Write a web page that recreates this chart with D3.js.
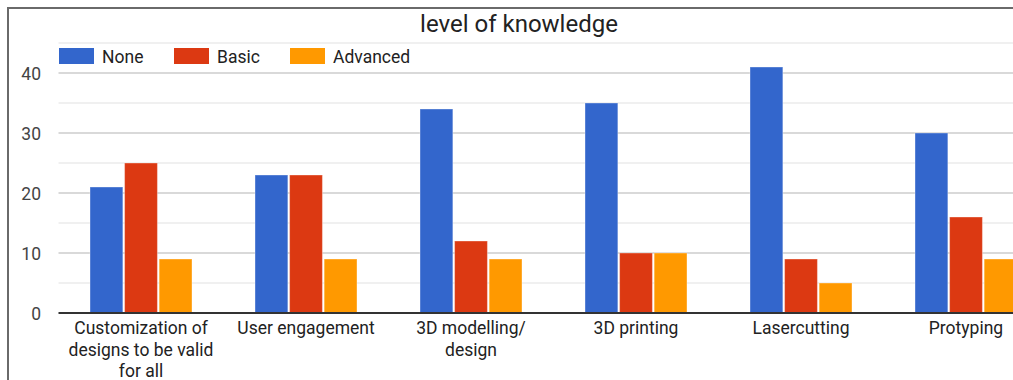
<!DOCTYPE html>
<html>
<head>
<meta charset="utf-8">
<script src="https://cdn.jsdelivr.net/npm/d3@7"></script>
<style>
  html, body { margin: 0; padding: 0; background: #fff; overflow: hidden; }
  svg { display: block; font-family: Roboto, "Liberation Sans", Arial, sans-serif; }
</style>
</head>
<body>
<svg id="chart" width="1013" height="380"></svg>
<script>
// Survey: self-reported level of knowledge per topic
const categories = [
  ["Customization of", "designs to be valid", "for all"],
  ["User engagement"],
  ["3D modelling/", "design"],
  ["3D printing"],
  ["Lasercutting"],
  ["Protyping"]
];
const seriesNames = ["None", "Basic", "Advanced"];
const noneValues     = [21, 23, 34, 35, 41, 30];
const basicValues    = [25, 23, 12, 10,  9, 16];
const advancedValues = [ 9,  9,  9, 10,  5,  9];
const majorTicks = [0, 10, 20, 30, 40];
const minorTicks = [5, 15, 25, 35, 45];
const colors = ["#3366cc", "#dc3912", "#ff9900"];

const seriesValues = [noneValues, basicValues, advancedValues];
const keys = categories.map(c => c.join(" "));

const svg = d3.select("#chart");

// outer frame
svg.append("rect")
  .attr("x", 8).attr("y", 8)
  .attr("width", 1100).attr("height", 500)
  .attr("fill", "#fff")
  .attr("stroke", "#6a6a6a")
  .attr("stroke-width", 2);

const plotLeft = 58.5, step = 165;
const x0 = d3.scaleBand()
  .domain(keys)
  .range([plotLeft, plotLeft + step * keys.length])
  .paddingInner(0.382)
  .paddingOuter(0.191);
const x1 = d3.scaleBand()
  .domain(seriesNames)
  .range([0, x0.bandwidth()])
  .paddingInner(0.05);
const y = d3.scaleLinear().domain([0, 45]).range([313, 43]);

// gridlines
const gridRight = 1013;
svg.append("g").selectAll("line").data(minorTicks).join("line")
  .attr("x1", plotLeft).attr("x2", gridRight)
  .attr("y1", d => y(d)).attr("y2", d => y(d))
  .attr("stroke", "#ebebeb").attr("stroke-width", 1.5);
svg.append("g").selectAll("line").data(majorTicks.filter(d => d > 0)).join("line")
  .attr("x1", plotLeft).attr("x2", gridRight)
  .attr("y1", d => y(d)).attr("y2", d => y(d))
  .attr("stroke", "#cccccc").attr("stroke-width", 1.5);

// y-axis labels
const yAxis = d3.axisLeft(y).tickValues(majorTicks).tickSize(0).tickPadding(0);
const yg = svg.append("g").attr("transform", "translate(41,0)").call(yAxis);
yg.select(".domain").remove();
yg.selectAll("text")
  .attr("font-size", 17.5).attr("fill", "#444").attr("font-family", "Roboto, sans-serif")
  .attr("dy", "0.35em");

// bars
const groups = svg.append("g").selectAll("g").data(keys).join("g")
  .attr("transform", d => `translate(${x0(d)},0)`);
groups.selectAll("rect")
  .data((k, i) => seriesNames.map((s, j) => ({ s, j, v: seriesValues[j][i] })))
  .join("rect")
  .attr("x", d => x1(d.s))
  .attr("width", x1.bandwidth())
  .attr("y", d => y(d.v))
  .attr("height", d => y(0) - y(d.v))
  .attr("fill", d => colors[d.j])
  .attr("stroke", "rgba(255,255,255,0.35)")
  .attr("stroke-width", 1);

// baseline
svg.append("line")
  .attr("x1", plotLeft).attr("x2", gridRight)
  .attr("y1", y(0)).attr("y2", y(0))
  .attr("stroke", "#333").attr("stroke-width", 2);

// x-axis labels (multi-line)
const xl = svg.append("g").selectAll("text").data(categories).join("text")
  .attr("x", (d, i) => x0(keys[i]) + x0.bandwidth() / 2)
  .attr("y", 334)
  .attr("text-anchor", "middle")
  .attr("font-size", 17.5)
  .attr("fill", "#222");
xl.selectAll("tspan").data(d => d).join("tspan")
  .attr("x", function () { return d3.select(this.parentNode).attr("x"); })
  .attr("dy", (d, i) => i === 0 ? 0 : 21.5)
  .text(d => d);

// title
svg.append("text")
  .attr("x", 519).attr("y", 32)
  .attr("text-anchor", "middle")
  .attr("font-size", 24)
  .attr("fill", "#222")
  .text("level of knowledge");

// legend
const legendX = [59, 174, 290];
const lg = svg.append("g").selectAll("g").data(seriesNames).join("g")
  .attr("transform", (d, i) => `translate(${legendX[i]},48)`);
lg.append("rect")
  .attr("width", 35).attr("height", 16)
  .attr("fill", (d, i) => colors[i]);
lg.append("text")
  .attr("x", 43).attr("y", 14.5)
  .attr("font-size", 17.5).attr("fill", "#222")
  .text(d => d);
</script>
</body>
</html>
